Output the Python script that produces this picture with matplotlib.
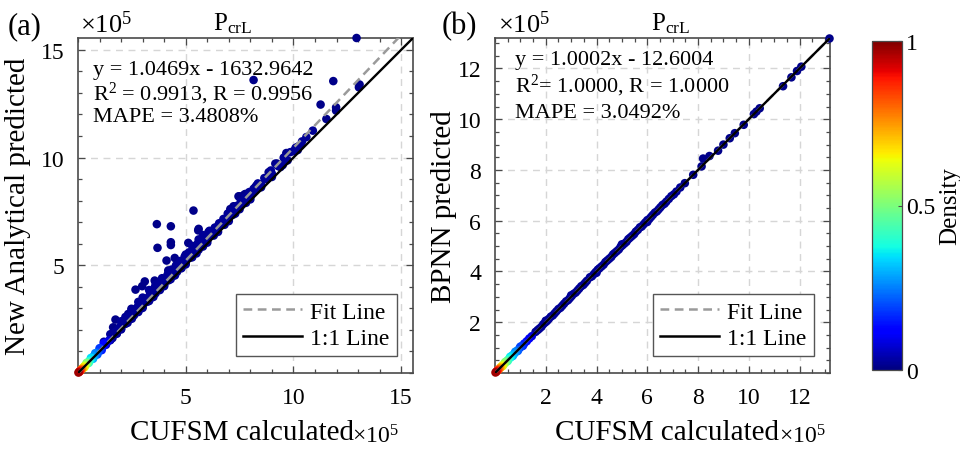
import numpy as np
import matplotlib
matplotlib.use('Agg')
import matplotlib.pyplot as plt
from matplotlib.ticker import MultipleLocator, FixedLocator
from matplotlib.lines import Line2D
import matplotlib.cm as cm
from matplotlib.colors import Normalize

plt.rcParams['font.family'] = ['Liberation Serif', 'DejaVu Serif']
plt.rcParams['mathtext.fontset'] = 'custom'
plt.rcParams['mathtext.rm'] = 'Liberation Serif'
plt.rcParams['mathtext.it'] = 'Liberation Serif:italic'
plt.rcParams['mathtext.bf'] = 'Liberation Serif:bold'

# ---------------- data: (CUFSM calculated, predicted, density), values in units of 1e5 ----------------
# Panel (a): New Analytical predicted
origin_a = [(0.02, 0.02, 0.97), (0.05, 0.05, 0.93), (0.08, 0.07, 0.89), (0.10, 0.11, 0.86),
            (0.13, 0.13, 0.82), (0.16, 0.17, 0.78), (0.20, 0.20, 0.73), (0.24, 0.25, 0.68),
            (0.28, 0.29, 0.63), (0.32, 0.34, 0.58), (0.36, 0.37, 0.54), (0.40, 0.43, 0.50),
            (0.45, 0.46, 0.45), (0.50, 0.53, 0.40), (0.55, 0.57, 0.37), (0.60, 0.64, 0.34),
            (0.66, 0.68, 0.31), (0.72, 0.77, 0.28), (0.78, 0.81, 0.25), (0.85, 0.90, 0.22),
            (0.92, 0.96, 0.20), (1.00, 1.06, 0.18), (1.08, 1.12, 0.15), (1.16, 1.23, 0.13),
            (1.25, 1.31, 0.11), (1.35, 1.44, 0.09), (1.45, 1.52, 0.07),
            (0.30, 0.26, 0.62), (0.50, 0.47, 0.40), (0.70, 0.66, 0.29), (0.90, 0.86, 0.21),
            (1.10, 1.06, 0.15), (0.40, 0.47, 0.50), (0.60, 0.70, 0.34), (0.80, 0.92, 0.25),
            (1.00, 1.15, 0.18), (1.20, 1.38, 0.13)]
band_a = [(1.6, 1.62), (1.7, 1.80), (1.8, 1.85), (1.9, 2.05), (2.0, 2.05), (2.1, 2.25), (2.2, 2.28),
          (2.3, 2.45), (2.4, 2.50), (2.5, 2.70), (2.6, 2.68), (2.7, 2.90), (2.8, 2.88), (2.9, 3.10),
          (3.0, 3.08), (3.1, 3.30), (3.2, 3.30), (3.3, 3.55), (3.4, 3.50), (3.5, 3.75), (3.6, 3.70),
          (3.7, 3.95), (3.8, 3.90), (3.9, 4.15), (4.0, 4.10), (4.1, 4.35), (4.2, 4.30), (4.3, 4.50),
          (4.4, 4.50), (4.5, 4.75), (4.6, 4.70), (4.7, 4.90), (4.8, 4.90), (4.9, 5.15), (5.0, 5.10),
          (5.2, 5.35), (5.4, 5.55), (5.5, 5.75), (5.6, 5.72), (5.8, 6.05), (6.0, 6.15), (6.2, 6.40),
          (6.4, 6.55), (6.6, 6.85), (6.8, 6.95), (7.0, 7.25), (7.2, 7.35), (7.4, 7.65), (7.6, 7.80),
          (7.8, 8.10), (8.0, 8.20), (8.2, 8.45), (8.5, 8.75), (8.8, 9.05), (9.0, 9.25), (9.3, 9.60),
          (9.6, 9.90), (10.0, 10.30), (10.4, 10.75),
          (1.5, 1.52), (2.0, 2.02), (2.5, 2.52), (3.0, 3.02), (3.5, 3.53), (4.0, 4.03), (4.5, 4.53),
          (5.0, 5.04), (5.5, 5.55), (6.0, 6.05), (6.5, 6.55), (7.0, 7.05), (7.5, 7.60), (8.0, 8.06),
          (9.0, 9.10),
          (1.2, 1.45), (1.5, 1.80), (2.0, 2.40), (2.2, 2.60), (2.5, 2.95), (2.8, 3.30), (3.0, 3.50),
          (3.3, 3.85), (3.6, 4.10), (3.9, 4.40), (4.2, 4.65), (4.6, 5.00), (5.0, 5.50), (5.3, 5.90),
          (5.6, 6.20), (5.8, 6.40), (6.1, 6.60),
          (1.55, 1.70), (1.75, 1.92), (1.95, 2.15), (2.15, 2.35), (2.35, 2.62), (2.55, 2.80),
          (2.75, 3.05), (2.95, 3.25), (3.15, 3.45), (3.35, 3.70), (3.55, 3.95), (3.75, 4.15),
          (3.95, 4.30), (4.15, 4.55), (4.35, 4.80), (4.55, 5.00), (4.75, 5.20), (4.95, 5.40),
          (5.15, 5.60), (5.35, 5.80), (5.55, 6.00), (5.75, 6.20), (5.95, 6.30), (6.15, 6.55),
          (6.35, 6.75), (6.55, 6.95), (6.75, 7.15), (6.95, 7.40), (7.15, 7.55), (7.35, 7.75),
          (7.55, 7.95), (7.75, 8.15), (7.95, 8.40), (8.15, 8.55), (8.35, 8.80), (8.65, 9.05),
          (8.95, 9.40), (9.25, 9.65), (9.55, 10.00), (9.85, 10.25), (10.1, 10.45), (10.6, 10.95),
          (10.9, 11.25),
          (1.3, 1.31), (1.8, 1.82), (2.3, 2.33), (2.8, 2.83), (3.3, 3.34), (3.8, 3.85), (4.3, 4.35),
          (4.8, 4.86), (5.3, 5.37), (5.8, 5.87), (6.3, 6.38), (6.8, 6.88), (7.3, 7.40), (7.8, 7.90),
          (8.5, 8.62), (9.5, 9.65), (10.2, 10.35)]
outliers_a = [(12.93, 15.55), (8.15, 13.60), (11.85, 13.55), (13.07, 13.39), (13.04, 13.26),
              (11.26, 12.46), (11.98, 12.33), (11.98, 12.18), (11.53, 11.79), (10.25, 10.53),
              (10.33, 10.57), (9.67, 10.21), (9.73, 9.87), (9.24, 9.72), (9.40, 9.56), (8.93, 9.22),
              (8.77, 8.99), (8.23, 8.63), (8.47, 8.75), (7.50, 8.20), (7.72, 8.28), (7.92, 8.14),
              (7.22, 7.74), (5.36, 7.54), (3.66, 6.91), (4.31, 6.81), (5.60, 6.69), (10.17, 10.48),
              (9.16, 9.72), (8.85, 9.32), (8.29, 8.71), (7.45, 8.20), (7.77, 8.31), (7.07, 7.61),
              (6.98, 7.30), (6.45, 6.77), (6.14, 6.53), (3.69, 5.81), (4.31, 6.07), (4.31, 5.94),
              (4.11, 5.22), (4.49, 5.34), (5.12, 6.04), (5.58, 6.62), (6.05, 6.53), (3.10, 4.25),
              (2.67, 3.87), (2.98, 4.03), (1.74, 2.48), (1.63, 2.12), (2.48, 2.98), (2.33, 2.74),
              (3.56, 4.29), (4.19, 4.76), (4.65, 5.07), (4.96, 5.30)]
band_density_a = 0.02
outlier_density_a = 0.01

# Panel (b): BPNN predicted
origin_b = [(0.02, 0.02, 0.97), (0.05, 0.05, 0.93), (0.08, 0.08, 0.89), (0.11, 0.11, 0.85),
            (0.14, 0.14, 0.81), (0.18, 0.18, 0.76), (0.22, 0.22, 0.71), (0.26, 0.26, 0.66),
            (0.30, 0.30, 0.61), (0.35, 0.35, 0.56), (0.40, 0.40, 0.51), (0.45, 0.46, 0.46),
            (0.50, 0.50, 0.42), (0.56, 0.57, 0.38), (0.62, 0.62, 0.34), (0.68, 0.69, 0.31),
            (0.75, 0.75, 0.28), (0.82, 0.83, 0.25), (0.90, 0.90, 0.22), (0.98, 0.99, 0.19),
            (1.06, 1.06, 0.17), (1.15, 1.16, 0.15), (1.25, 1.25, 0.12), (1.35, 1.36, 0.10),
            (1.45, 1.45, 0.08), (0.30, 0.27, 0.60), (0.50, 0.47, 0.41), (0.70, 0.67, 0.29),
            (0.90, 0.87, 0.21), (1.10, 1.07, 0.15), (0.40, 0.43, 0.50), (0.60, 0.64, 0.35),
            (0.80, 0.84, 0.26), (1.00, 1.04, 0.19)]
band_b = [(1.6, 1.62), (1.68, 1.69), (1.75, 1.75), (1.83, 1.82), (1.9, 1.92), (1.98, 1.99),
          (2.05, 2.05), (2.12, 2.13), (2.2, 2.22), (2.28, 2.27), (2.35, 2.35), (2.42, 2.43),
          (2.5, 2.52), (2.58, 2.57), (2.65, 2.65), (2.72, 2.73), (2.8, 2.82), (2.88, 2.87),
          (2.95, 2.95), (3.02, 3.03), (3.1, 3.12), (3.18, 3.17), (3.25, 3.25), (3.32, 3.33),
          (3.4, 3.42), (3.48, 3.47), (3.55, 3.55), (3.62, 3.63), (3.74, 3.77), (3.82, 3.81),
          (3.9, 3.9), (3.97, 3.98), (4.05, 4.07), (4.12, 4.13), (4.2, 4.2), (4.28, 4.27),
          (4.35, 4.37), (4.42, 4.43), (4.5, 4.5), (4.58, 4.57), (4.65, 4.67), (4.72, 4.73),
          (4.8, 4.8), (4.88, 4.87), (4.95, 4.97), (5.02, 5.03), (5.1, 5.1), (5.18, 5.17),
          (5.25, 5.27), (5.32, 5.33), (5.4, 5.4), (5.48, 5.47), (5.55, 5.57), (5.63, 5.64),
          (5.71, 5.74), (5.78, 5.77), (5.85, 5.85), (5.92, 5.93), (6.0, 6.02), (6.08, 6.07),
          (6.15, 6.15), (6.22, 6.23), (6.3, 6.32), (6.38, 6.37), (6.45, 6.45), (6.52, 6.53),
          (6.6, 6.62), (6.68, 6.67), (6.75, 6.75), (6.85, 6.86), (6.95, 6.97), (7.05, 7.04),
          (7.15, 7.15), (7.3, 7.31), (2.0, 2.06), (3.0, 3.06), (4.0, 3.95), (5.0, 5.07),
          (6.0, 5.95)]
outliers_b = [(7.48, 7.48), (7.81, 7.81), (8.14, 8.14), (8.20, 8.45), (8.45, 8.55), (8.79, 8.76),
              (9.0, 9.0), (9.25, 9.25), (9.45, 9.45), (9.8, 9.78), (10.2, 10.2), (10.3, 10.3),
              (10.43, 10.43), (11.35, 11.30), (11.68, 11.65), (11.9, 11.9), (12.07, 12.07),
              (13.18, 13.18)]
band_density_b = 0.02
outlier_density_b = 0.01

# Fit lines: slope, intercept (intercept in absolute units)
fit_a = (1.0469, -1632.9642)
fit_b = (1.0002, -12.6004)
stats_a = ["y = 1.0469x - 1632.9642", r"R$^{2}$ = 0.9913, R = 0.9956", "MAPE = 3.4808%"]
stats_b = ["y = 1.0002x - 12.6004", r"R$^{2}$= 1.0000, R = 1.0000", "MAPE = 3.0492%"]
ylabels = ["New Analytical predicted", "BPNN predicted"]
xlabel = "CUFSM calculated"
panel_tags = ["(a)", "(b)"]
xticks_a = [5, 10, 15]
xticks_b = [2, 4, 6, 8, 10, 12]
lim_a = 15.55
lim_b = 13.2
SCALE = 1e5


def assemble(origin, band, band_d, outliers, out_d):
    xs = [p[0] for p in origin] + [p[0] for p in band] + [p[0] for p in outliers]
    ys = [p[1] for p in origin] + [p[1] for p in band] + [p[1] for p in outliers]
    ds = [p[2] for p in origin] + [band_d] * len(band) + [out_d] * len(outliers)
    return np.array(xs), np.array(ys), np.array(ds)


W, H = 960, 452
fig = plt.figure(figsize=(W / 100, H / 100), dpi=100)


def fpx(x, y):
    return x / W, 1 - y / H


cmap = plt.get_cmap('jet')
norm = Normalize(0, 1)
edge = '#4a4a4a'


def make_panel(rect, data, fit, lim, ticks, minor, stats, ylabel, ylab_off,
               stat_x, stat_baselines):
    ax = fig.add_axes(rect)
    xs, ys, ds = data
    order = np.argsort(ds, kind='stable')
    ax.scatter(xs[order], ys[order], c=ds[order], cmap=cmap, norm=norm, s=38,
               linewidths=0, zorder=3, clip_on=False)
    xl = np.array([0, lim])
    ax.plot(xl, fit[0] * xl + fit[1] / SCALE, ls=(0, (3.5, 2.2)), color='#9a9a9a', lw=1.8, zorder=4)
    ax.plot(xl, xl, color='black', lw=1.7, zorder=5)
    ax.set_xlim(0, lim); ax.set_ylim(0, lim)
    ax.xaxis.set_major_locator(FixedLocator(ticks))
    ax.yaxis.set_major_locator(FixedLocator(ticks))
    ax.xaxis.set_minor_locator(MultipleLocator(minor))
    ax.yaxis.set_minor_locator(MultipleLocator(minor))
    ax.tick_params(which='both', direction='in', top=True, right=True, color=edge,
                   labelsize=17, width=0.9)
    ax.tick_params(which='major', length=5)
    ax.tick_params(axis='x', which='major', pad=10)
    ax.tick_params(axis='y', which='major', pad=10)
    ax.tick_params(which='minor', length=3)
    ax.grid(True, which='major', ls=(0, (5, 4)), color='#d6d6d6', lw=1.0, zorder=0)
    for sp in ax.spines.values():
        sp.set_color(edge); sp.set_linewidth(1.2)
    ax.set_ylabel(ylabel, fontsize=21)
    ax.yaxis.set_label_coords(-ylab_off / 335, 0.5)
    for s, b in zip(stats, stat_baselines):
        ax.text(stat_x, 1 - b / 335, s, transform=ax.transAxes, fontsize=16,
                va='baseline', ha='left', zorder=6)
    leg_handles = [Line2D([], [], ls=(0, (3.5, 2.2)), color='#9a9a9a', lw=1.8),
                   Line2D([], [], color='black', lw=1.8)]
    leg = ax.legend(leg_handles, ['Fit Line', '1:1 Line'], loc='lower right',
                    bbox_to_anchor=(0.952, 0.051), fontsize=17, frameon=True, fancybox=False,
                    framealpha=1, edgecolor='#555555', handlelength=2.5, borderaxespad=0,
                    handletextpad=0.35, borderpad=0.3, labelspacing=0.2)
    leg.get_frame().set_linewidth(1.0)
    leg.set_zorder(10)
    return ax


# stat text baselines in pixels below the top of the axes
axa = make_panel([78 / W, 1 - 374 / H, 335 / W, 335 / H],
                 assemble(origin_a, band_a, band_density_a, outliers_a, outlier_density_a),
                 fit_a, lim_a, xticks_a, 1, stats_a, ylabels[0], 47, 0.045, [36, 61, 83])
axb = make_panel([495 / W, 1 - 374 / H, 335 / W, 335 / H],
                 assemble(origin_b, band_b, band_density_b, outliers_b, outlier_density_b),
                 fit_b, lim_b, xticks_b, 0.5, stats_b, ylabels[1], 38, 0.06, [26, 53, 79])

# x labels with MATLAB-style exponent
for lx, ex in [(242, 352), (667, 779)]:
    fig.text(*fpx(lx, 440), xlabel, fontsize=21, ha='center', va='baseline')
    fig.text(*fpx(ex, 444), r'$\times10^{5}$', fontsize=17, ha='left', va='baseline')

# top labels
for tag, tx, ex, px in [(panel_tags[0], 8, 80, 233), (panel_tags[1], 442, 498, 671)]:
    fig.text(*fpx(tx, 34), tag, fontsize=22, ha='left', va='baseline')
    fig.text(*fpx(ex, 33), r'$\times10^{5}$', fontsize=19, ha='left', va='baseline')
    fig.text(*fpx(px, 30), r'P$_{\mathregular{crL}}$', fontsize=18, ha='center', va='baseline')

# colorbar
cax = fig.add_axes([872 / W, 1 - 371 / H, 30 / W, 329 / H])
sm = cm.ScalarMappable(norm=norm, cmap=cmap)
cb = fig.colorbar(sm, cax=cax, ticks=[0, 0.5, 1])
cb.ax.set_yticklabels(['0', '0.5', '1'])
cb.ax.tick_params(labelsize=17, direction='in', length=3, color=edge, width=0.8, pad=3)
cb.outline.set_edgecolor(edge); cb.outline.set_linewidth(0.9)
cb.set_label('Density', fontsize=18, labelpad=3)

fig.savefig('out.png', dpi=100)
